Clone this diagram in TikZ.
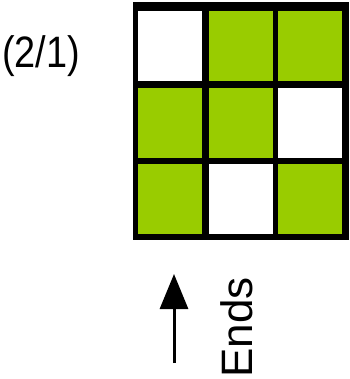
\documentclass[tikz,border=0pt]{standalone}
\usepackage{fontspec}
\setmainfont{Liberation Sans}
\usetikzlibrary{positioning,arrows.meta}
\definecolor{cellgreen}{HTML}{99CC00}
\tikzset{
    board/.style={
        rectangle,fill=black,inner sep=0pt,minimum width=216pt,minimum height=238pt
    },
    cell/.style={
        rectangle,inner sep=0pt,minimum width=64pt,minimum height=70pt,fill=white
    },
    bigtext/.style={
        inner sep=0pt,font=\fontsize{44}{50}\selectfont
    }
}
\begin{document}
\begin{tikzpicture}[x=1pt,y=-1pt]
\useasboundingbox (0,0) rectangle (349,379);
\node[board] (board) at (241,121) {};
% cells, row by row
\node[cell] (c11) at (169.5,46.5) {};
\node[cell,fill=cellgreen] (c12) at (241,46.5) {};
\node[cell,fill=cellgreen] (c13) at (309.5,46.5) {};
\node[cell,fill=cellgreen] (c21) at (169.5,123) {};
\node[cell,fill=cellgreen] (c22) at (241,123) {};
\node[cell] (c23) at (309.5,123) {};
\node[cell,fill=cellgreen] (c31) at (169.5,199) {};
\node[cell] (c32) at (241,199) {};
\node[cell,fill=cellgreen] (c33) at (309.5,199) {};
\node[bigtext,xscale=0.86] (ratio) at (41,56) {(2/1)};
\node[bigtext,rotate=90,anchor=base] (ends) at (252,327.5) {Ends};
\coordinate (tail) at (174,363);
\coordinate (tip) at (174,274);
\draw[line width=3pt,-{Triangle[width=28pt,length=35pt]}] (tail) -- (tip);
\end{tikzpicture}
\end{document}
